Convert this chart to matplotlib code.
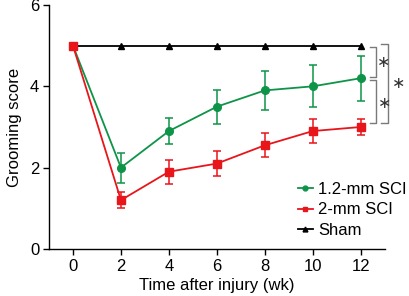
import matplotlib
matplotlib.use("Agg")
import matplotlib.pyplot as plt
from matplotlib.lines import Line2D

plt.rcParams['font.family'] = ['Liberation Sans', 'DejaVu Sans']

weeks = [0, 2, 4, 6, 8, 10, 12]
sci12 = [5.0, 2.0, 2.9, 3.5, 3.9, 4.0, 4.2]
sci12_err = [0.0, 0.37, 0.32, 0.42, 0.47, 0.52, 0.55]
sci2 = [5.0, 1.2, 1.9, 2.1, 2.55, 2.9, 3.0]
sci2_err = [0.0, 0.2, 0.3, 0.3, 0.3, 0.3, 0.2]
sham = [5.0, 5.0, 5.0, 5.0, 5.0, 5.0, 5.0]
labels = ["1.2-mm SCI", "2-mm SCI", "Sham"]

green = "#0e9448"
red = "#e8151b"

fig = plt.figure(figsize=(4.10, 2.96), dpi=100)
ax = fig.add_axes([0.1195, 0.159, 0.819, 0.824])

ax.plot(weeks, sham, color='black', marker='^', ms=4.5, lw=1.3, zorder=2)
ax.errorbar(weeks, sci12, yerr=sci12_err, color=green, marker='o', ms=5.5,
            lw=1.3, capsize=3, capthick=1.1, elinewidth=1.1, zorder=3)
ax.errorbar(weeks, sci2, yerr=sci2_err, color=red, marker='s', ms=5.5,
            lw=1.3, capsize=3, capthick=1.1, elinewidth=1.1, zorder=3)

ax.set_xlim(-1, 13)
ax.set_ylim(0, 6)
ax.set_xticks(weeks)
ax.set_yticks([0, 2, 4, 6])
for s in ['top', 'right']:
    ax.spines[s].set_visible(False)
for s in ['left', 'bottom']:
    ax.spines[s].set_linewidth(1.0)
ax.tick_params(direction='out', length=4, width=1.0, labelsize=12, pad=3)
ax.set_xlabel("Time after injury (wk)", fontsize=12, labelpad=3)
ax.set_ylabel("Grooming score", fontsize=12, labelpad=6)

handles = [
    Line2D([], [], color=green, marker='o', ms=3.5, lw=1.3),
    Line2D([], [], color=red, marker='s', ms=3.5, lw=1.3),
    Line2D([], [], color='black', marker='^', ms=3.5, lw=1.3),
]
ax.legend(handles, labels, loc='center left', bbox_to_anchor=(298 / 410, 1 - 210 / 296),
          bbox_transform=fig.transFigure, frameon=False, fontsize=12,
          handlelength=0.9, handletextpad=0.3, labelspacing=0.35,
          borderpad=0.0, borderaxespad=0.0)

# significance brackets
gray = "#7a7a7a"
def bracket(x0, x1, y0, y1):
    ax.plot([x0, x1, x1, x0], [y0, y0, y1, y1], color=gray, lw=1.0, clip_on=False)

bracket(12.4, 12.63, 4.97, 4.24)
bracket(12.4, 12.63, 4.16, 3.09)
bracket(12.86, 13.14, 5.03, 3.09)
ax.text(12.93, 4.58, r"$\ast$", fontsize=11.5, ha='center', va='center', color='#333333', clip_on=False)
ax.text(12.97, 3.58, r"$\ast$", fontsize=11.5, ha='center', va='center', color='#333333', clip_on=False)
ax.text(13.53, 4.08, r"$\ast$", fontsize=11.5, ha='center', va='center', color='#333333', clip_on=False)

fig.savefig("out.png", dpi=100)
